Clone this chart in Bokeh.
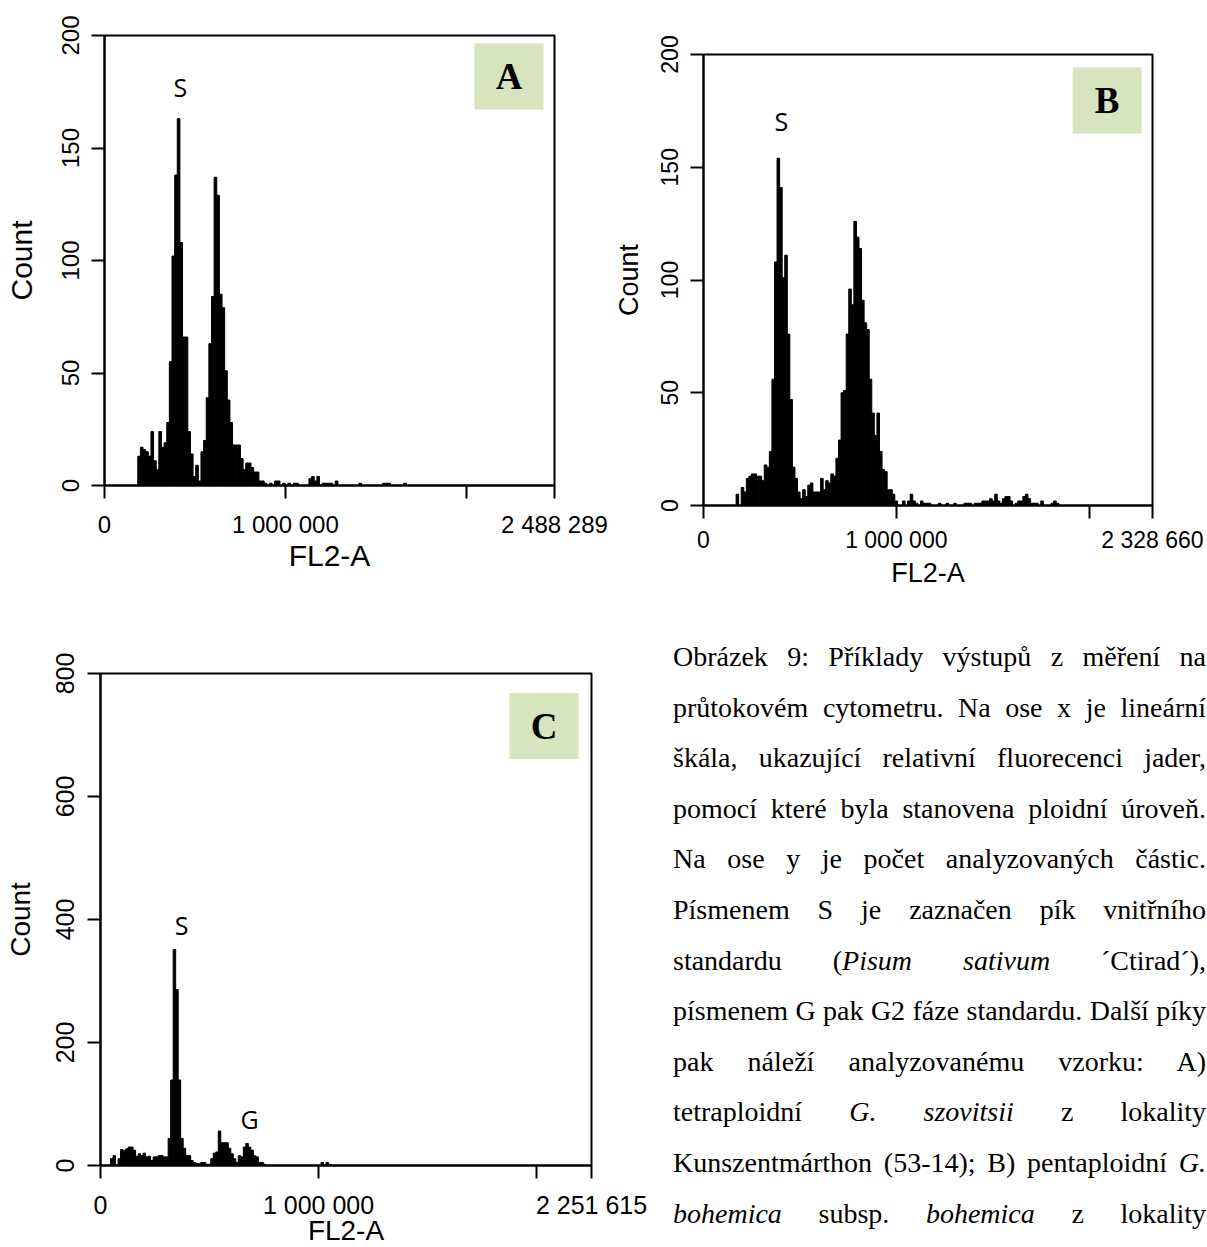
import numpy as np
from bokeh.plotting import figure
from bokeh.models import Range1d, FixedTicker, Div, Spacer
from bokeh.layouts import row, column
from bokeh.core.properties import value
from bokeh.embed import file_html
from bokeh.resources import INLINE

# ---------------- data ----------------
# Panel A: tetraploid sample with Pisum standard
a_x_max = 2488289
a_y_max = 200
a_x_ticks = [0, 1000000, 2000000, 2488289]
a_x_tick_text = ["0", "1 000 000", "", "2 488 289"]
a_y_ticks = [0, 50, 100, 150, 200]
a_bin_start = 184000
a_bin_width = 14560
a_counts = [13, 17, 16, 15, 13, 24, 11, 7, 24, 17, 19, 28, 55, 102, 138, 163, 108, 66, 66, 24,
            14, 4, 9, 2, 15, 20, 39, 63, 84, 137, 129, 85, 79, 51, 38, 28, 18, 18, 18, 12,
            7, 10, 10, 8, 6, 6, 2, 2, 1, 0, 1, 0, 2, 2, 0, 1, 0, 1, 0, 1,
            1, 0, 0, 0, 0, 3, 4, 2, 4, 0, 1, 1, 1, 1, 0, 2, 0, 0, 0, 0,
            0, 0, 0, 0, 1, 0, 0, 0, 0, 0, 0, 0, 0, 1, 1, 1, 0, 0, 0, 0,
            0, 1]
a_peak_text = ["S"]
a_peak_x = [420000]
a_peak_y = [177.3]

# Panel B: pentaploid sample
b_x_max = 2328660
b_y_max = 200
b_x_ticks = [0, 1000000, 2000000, 2328660]
b_x_tick_text = ["0", "1 000 000", "", "2 328 660"]
b_y_ticks = [0, 50, 100, 150, 200]
b_bin_start = 169000
b_bin_width = 13280
b_counts = [5, 0, 8, 6, 12, 13, 14, 14, 13, 13, 11, 18, 17, 24, 56, 108, 154, 141, 101, 111,
            76, 47, 17, 12, 6, 3, 7, 4, 9, 10, 6, 6, 6, 12, 7, 11, 10, 14, 13, 21,
            29, 50, 51, 76, 96, 89, 126, 119, 114, 91, 81, 78, 56, 41, 31, 41, 24, 16, 15, 7,
            7, 5, 2, 0, 0, 2, 0, 2, 5, 2, 1, 0, 2, 1, 1, 1, 0, 0, 0, 1,
            0, 0, 1, 0, 0, 1, 0, 0, 0, 1, 1, 1, 0, 1, 1, 1, 2, 2, 2, 3,
            2, 5, 2, 1, 3, 4, 4, 2, 0, 1, 2, 2, 4, 5, 3, 1, 1, 1, 0, 2,
            0, 0, 0, 1, 2, 1]
b_peak_text = ["S"]
b_peak_x = [403700]
b_peak_y = [170.5]

# Panel C: standard with its G2 phase
c_x_max = 2251615
c_y_max = 800
c_x_ticks = [0, 1000000, 2000000, 2251615]
c_x_tick_text = ["0", "1 000 000", "", "2 251 615"]
c_y_ticks = [0, 200, 400, 600, 800]
c_bin_start = 46000
c_bin_width = 11490
c_counts = [11, 16, 0, 11, 26, 24, 27, 30, 30, 25, 15, 19, 16, 20, 14, 15, 8, 14, 14, 16,
            16, 14, 14, 44, 139, 351, 286, 139, 44, 28, 16, 16, 8, 5, 3, 3, 5, 5, 2, 2,
            11, 20, 22, 56, 37, 37, 37, 28, 19, 11, 5, 16, 14, 30, 36, 30, 25, 16, 14, 5,
            5, 2, 0, 0, 0, 0, 0, 0, 0, 0, 0, 0, 0, 0, 0, 0, 0, 0, 0, 0,
            0, 0, 0, 0, 5, 1, 5, 2]
c_peak_text = ["S", "G"]
c_peak_x = [371400, 683200]
c_peak_y = [391, 76]

caption_lines = [
    "Obrázek 9: Příklady výstupů z měření na",
    "průtokovém cytometru. Na ose x je lineární",
    "škála, ukazující relativní fluorecenci jader,",
    "pomocí které byla stanovena ploidní úroveň.",
    "Na ose y je počet analyzovaných částic.",
    "Písmenem S&nbsp;je zaznačen pík vnitřního",
    "standardu (<i>Pisum sativum</i> ´Ctirad´),",
    "písmenem G pak G2 fáze standardu. Další píky",
    "pak náleží analyzovanému vzorku: A)",
    "tetraploidní <i>G. szovitsii</i> z lokality",
    "Kunszentmárthon (53-14); B) pentaploidní <i>G.</i>",
    "<i>bohemica</i> subsp. <i>bohemica</i> z&nbsp;lokality",
]

TAG_FILL = "#D7E4BD"


def histogram_panel(width, height, borders, x_max, y_max, x_ticks, x_tick_text, y_ticks,
                    bin_start, bin_width, counts, peak_text, peak_x, peak_y,
                    tag, tag_offset, tick_px, label_px, standoffs):
    left, right, top, bottom = borders
    x_std, x_lab_std, y_std, y_lab_std = standoffs
    p = figure(width=width, height=height, output_backend="svg", toolbar_location=None,
               tools="", x_range=Range1d(0, x_max), y_range=Range1d(0, y_max),
               min_border_left=left, min_border_right=right,
               min_border_top=top, min_border_bottom=bottom)
    p.grid.visible = False
    p.outline_line_color = "black"
    p.outline_line_width = 2
    p.outline_line_alpha = 1.0
    p.background_fill_color = "white"
    p.border_fill_color = "white"

    counts = np.asarray(counts, dtype=float)
    edges = bin_start + bin_width * np.arange(len(counts))
    keep = counts > 0
    p.quad(left=edges[keep], right=edges[keep] + bin_width, bottom=0, top=counts[keep],
           fill_color="black", line_color="black", line_width=1.0)

    p.xaxis.ticker = FixedTicker(ticks=x_ticks)
    p.xaxis.major_label_overrides = dict(zip(x_ticks, x_tick_text))
    p.yaxis.ticker = FixedTicker(ticks=y_ticks)
    p.yaxis.major_label_orientation = "parallel"
    p.xaxis.axis_label = "FL2-A"
    p.yaxis.axis_label = "Count"
    for ax in (p.xaxis[0], p.yaxis[0]):
        ax.axis_line_width = 2
        ax.axis_line_color = "black"
        ax.major_tick_line_width = 2
        ax.major_tick_line_color = "black"
        ax.major_tick_in = 0
        ax.major_tick_out = 13
        ax.minor_tick_line_color = None
        ax.major_label_text_font = "Liberation Sans"
        ax.major_label_text_font_size = f"{tick_px}px"
        ax.major_label_text_color = "black"
        ax.axis_label_text_font = "Liberation Sans"
        ax.axis_label_text_font_style = "normal"
        ax.axis_label_text_font_size = f"{label_px}px"
        ax.axis_label_text_color = "black"
    p.xaxis.major_label_standoff = x_std
    p.xaxis.axis_label_standoff = x_lab_std
    p.yaxis.major_label_standoff = y_std
    p.yaxis.axis_label_standoff = y_lab_std

    p.text(x=peak_x, y=peak_y, text=peak_text, text_font=value("Open Sans"),
           text_font_size="25px", text_align="center", text_baseline="middle",
           text_color="black")

    # panel letter in a shaded square near the upper right corner of the frame
    frame_w = width - left - right
    frame_h = height - top - bottom
    off_r, off_t = tag_offset
    cx = x_max * (1 - off_r / frame_w)
    cy = y_max * (1 - off_t / frame_h)
    p.rect(x=[cx], y=[cy], width=69, height=66, width_units="screen", height_units="screen",
           fill_color=TAG_FILL, line_color=None)
    p.text(x=[cx], y=[cy], text=[tag], text_font=value("Liberation Serif"),
           text_font_style="bold", text_font_size="37px", text_align="center",
           text_baseline="middle", text_color="black")
    return p


pa = histogram_panel(610, 600, (104, 56, 35, 115), a_x_max, a_y_max, a_x_ticks, a_x_tick_text,
                     a_y_ticks, a_bin_start, a_bin_width, a_counts, a_peak_text, a_peak_x,
                     a_peak_y, "A", (45.5, 41), 24, 30, (12, -2, 13, 21))
pb = histogram_panel(597, 581, (92, 55, 35, 95), b_x_max, b_y_max, b_x_ticks, b_x_tick_text,
                     b_y_ticks, b_bin_start, b_bin_width, b_counts, b_peak_text, b_peak_x,
                     b_peak_y, "B", (45.5, 46), 23, 27, (8, 2, 13, 14))
pc = histogram_panel(660, 655, (100, 69, 73, 90), c_x_max, c_y_max, c_x_ticks, c_x_tick_text,
                     c_y_ticks, c_bin_start, c_bin_width, c_counts, c_peak_text, c_peak_x,
                     c_peak_y, "C", (47.5, 52.5), 25, 28, (12, -7, 14, 17))

caption_html = (
    '<div style="box-sizing:content-box;padding:32px 0 0 13px;width:533px;'
    'font-family:\'Liberation Serif\',serif;font-size:28px;line-height:50.6px;color:#000;">'
    + "".join('<div style="text-align:justify;text-align-last:justify;">%s</div>' % t
              for t in caption_lines)
    + "</div>"
)
caption = Div(text=caption_html, width=547, height=647, margin=0,
              styles={"overflow": "hidden"})

top_row = row(column(pa), column(Spacer(width=597, height=19), pb))
bottom_row = row(column(pc), caption)
page = column(top_row, bottom_row, width=1207, height=1247, styles={"overflow": "hidden"})

open("out.html", "w").write(file_html(page, INLINE))
